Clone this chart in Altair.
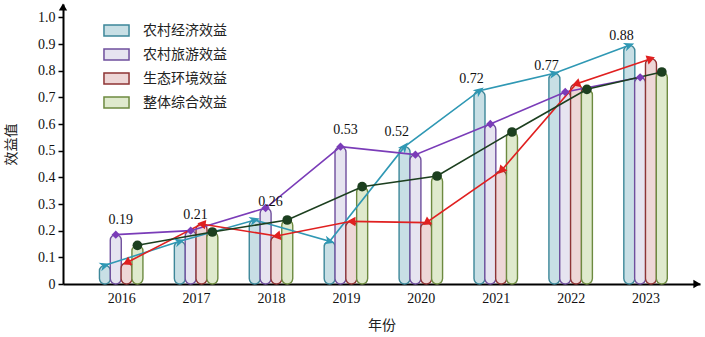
import altair as alt
import pandas as pd

# ---------------- data ----------------
years = [2016, 2017, 2018, 2019, 2020, 2021, 2022, 2023]
series_names = ["农村经济效益", "农村旅游效益", "生态环境效益", "整体综合效益"]
econ = [0.07, 0.16, 0.24, 0.16, 0.515, 0.725, 0.79, 0.895]
tourism = [0.185, 0.20, 0.285, 0.515, 0.485, 0.60, 0.72, 0.775]
ecology = [0.08, 0.225, 0.18, 0.235, 0.23, 0.425, 0.75, 0.845]
overall = [0.145, 0.195, 0.24, 0.365, 0.405, 0.57, 0.73, 0.795]
label_values = [0.19, 0.21, 0.26, 0.53, 0.52, 0.72, 0.77, 0.88]
label_series = ["农村旅游效益"] * 4 + ["农村经济效益"] * 4

y_ticks = [0, 0.1, 0.2, 0.3, 0.4, 0.5, 0.6, 0.7, 0.8, 0.9, 1.0]

# ---------------- styles ----------------
fills = ["#c8dfe5", "#e6e4f0", "#eed7d7", "#dfeacd"]
strokes = ["#3d8799", "#6f4f9d", "#8e3535", "#6d8a40"]
line_colors = ["#2f98b4", "#7a3cb8", "#e02020", "#1c3f1f"]

rows = []
for i, (name, vals) in enumerate(zip(series_names, [econ, tourism, ecology, overall])):
    for yr, v in zip(years, vals):
        rows.append({"year": yr, "series": name, "idx": i, "value": v})
df = pd.DataFrame(rows)

lab_df = pd.DataFrame({"year": years, "value": label_values, "series": label_series})
lab_df["idx"] = [series_names.index(s) for s in label_series]

X_DOM = [2015.29, 2023.66]
W, H = 637, 280
Y_MAX = 1.05
PXX = W / (X_DOM[1] - X_DOM[0])
PXY = H / Y_MAX
STEP = 11.0 / PXX

xscale = alt.Scale(domain=X_DOM, nice=False, zero=False)
yscale = alt.Scale(domain=[0, Y_MAX], nice=False)

SERIF = "Liberation Serif"
CJK = "Noto Sans CJK SC"

xaxis = alt.Axis(
    values=years, format="d", ticks=False, grid=False,
    labelPadding=7, title="年份", titlePadding=13,
)
yaxis = alt.Axis(
    values=y_ticks, grid=False,
    labelExpr="datum.value == 0 ? '0' : format(datum.value, '.1f')",
    tickSize=5, tickWidth=1.5, labelPadding=3,
    title="效益值", titlePadding=19,
)

leg = alt.Legend(
    title=None, orient="none", legendX=46, legendY=19,
    symbolType="M-1.9,-0.85H1.9V0.85H-1.9Z", symbolSize=174,
    symbolStrokeWidth=1.5, symbolOpacity=1,
    labelFont=CJK, labelFontSize=14, labelColor="#222", labelOffset=19,
    rowPadding=5,
)

X_ENC = alt.X("xpos:Q", scale=xscale, axis=xaxis)
Y_ENC = alt.Y("value:Q", scale=yscale, axis=yaxis, stack=None)

xpos_expr = f"datum.year + (datum.idx - 1.5) * {STEP}"

bars = alt.Chart(df).transform_calculate(xpos=xpos_expr).mark_bar(
    width=11, cornerRadius=5.5, strokeWidth=1.4, orient="vertical", fillOpacity=1
).encode(
    x=X_ENC,
    y=Y_ENC,
    fill=alt.Fill("series:N", scale=alt.Scale(domain=series_names, range=fills), legend=leg),
    stroke=alt.Stroke("series:N", scale=alt.Scale(domain=series_names, range=strokes), legend=leg),
)

layers = [bars]

window_defs = [
    alt.WindowFieldDef(op="lag", field="xpos", **{"as": "px"}),
    alt.WindowFieldDef(op="lag", field="value", **{"as": "pv"}),
    alt.WindowFieldDef(op="lead", field="xpos", **{"as": "nx"}),
    alt.WindowFieldDef(op="lead", field="value", **{"as": "nv"}),
]

econ_arrow = "M-1,-0.85L1,0L-1,0.85L-0.45,0Z"

for i, name in enumerate(series_names):
    base = alt.Chart(df).transform_filter(alt.datum.series == name).transform_calculate(xpos=xpos_expr)
    line = base.mark_line(color=line_colors[i], strokeWidth=1.6).encode(
        x=X_ENC, y=Y_ENC, order="year:Q",
    )
    layers.append(line)

for i, name in enumerate(series_names):
    base = alt.Chart(df).transform_filter(alt.datum.series == name).transform_calculate(xpos=xpos_expr)
    enc = dict(x=X_ENC, y=Y_ENC)
    if i in (0, 2):
        if i == 0:
            dx = "isValid(datum.px) ? datum.xpos - datum.px : datum.nx - datum.xpos"
            dv = "isValid(datum.pv) ? datum.value - datum.pv : datum.nv - datum.value"
            shape = econ_arrow
            size = 110
        else:
            dx = "isValid(datum.nx) ? datum.xpos - datum.nx : datum.xpos - datum.px"
            dv = "isValid(datum.nv) ? datum.value - datum.nv : datum.value - datum.pv"
            shape = "triangle-right"
            size = 90
        pts = base.transform_window(window=window_defs, sort=[alt.SortField("year")]).transform_calculate(
            ddx=dx, ddv=dv
        ).transform_calculate(
            ang=f"(atan2(-datum.ddv * {PXY}, datum.ddx * {PXX}) * 180 / PI + 360) % 360"
        ).mark_point(shape=shape, filled=True, color=line_colors[i], size=size, opacity=1).encode(
            angle=alt.Angle("ang:Q", scale=None), **enc
        )
    elif i == 1:
        pts = base.mark_point(shape="diamond", filled=True, color=line_colors[i], size=70, opacity=1).encode(**enc)
    else:
        pts = base.mark_point(shape="circle", filled=True, color=line_colors[i], size=95, opacity=1).encode(**enc)
    layers.append(pts)

labels = alt.Chart(lab_df).transform_calculate(
    xpos=f"datum.year + (datum.idx - 1.5) * {STEP} + (datum.idx == 0 ? {-8 / PXX} : {5 / PXX})"
).mark_text(font=SERIF, fontSize=14, color="#111", baseline="bottom", dy=-6).encode(
    x=X_ENC, y=Y_ENC,
    text=alt.Text("value:Q", format=".2f"),
)
layers.append(labels)

dummy = pd.DataFrame({"a": [0]})
x_arrow = alt.Chart(dummy).mark_point(shape="triangle-right", filled=True, color="black", size=70, opacity=1).encode(
    x=alt.value(W - 3), y=alt.value(H)
)
y_arrow = alt.Chart(dummy).mark_point(shape="triangle-up", filled=True, color="black", size=70, opacity=1).encode(
    x=alt.value(0), y=alt.value(3)
)
layers += [x_arrow, y_arrow]

chart = alt.layer(*layers).properties(
    width=W, height=H,
    autosize=alt.AutoSizeParams(type="none"),
    padding={"left": 63, "top": 4, "right": 5, "bottom": 53},
    background="white",
).configure_view(stroke=None).configure_axis(
    domainColor="black", domainWidth=2, tickColor="black",
    labelFont=SERIF, labelFontSize=14, labelColor="#111",
    titleFont=CJK, titleFontSize=14, titleFontWeight="normal", titleColor="#222",
)

chart.save("out.html", embed_options={"renderer": "svg", "actions": False})
